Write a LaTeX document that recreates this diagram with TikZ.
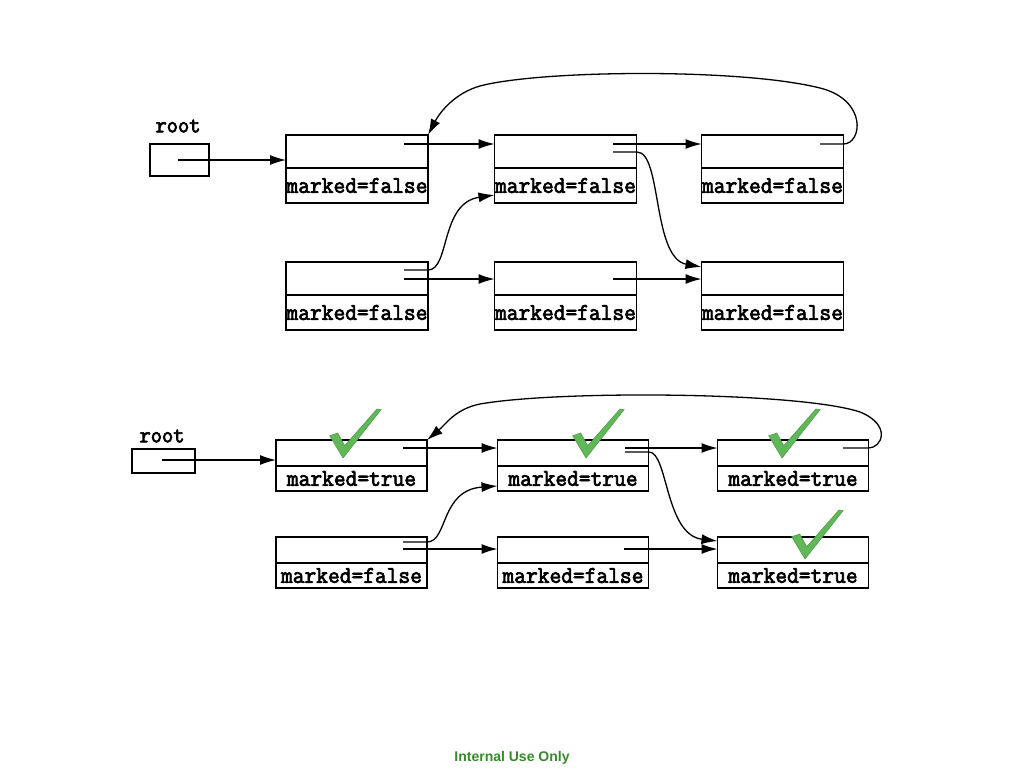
\documentclass[tikz,border=0pt]{standalone}
\usepackage{fontspec}
\newfontfamily\footfont{Liberation Sans}
\newfontfamily\cellfont{Latin Modern Mono}[FakeBold=3, FakeStretch=0.95]
\usetikzlibrary{arrows.meta}
\definecolor{checkgreen}{RGB}{96,184,88}
\definecolor{footgreen}{RGB}{52,140,40}

\begin{document}
\begin{tikzpicture}[x=1pt, y=-1pt,
  cell/.style={draw, line width=1.3pt, inner sep=0pt, outer sep=0pt},
  ptr/.style={line width=1.3pt, -{Latex[length=16pt,width=10pt]}},
  lbl/.style={font=\fontsize{24}{24}\selectfont\cellfont}]
  \useasboundingbox (0,0) rectangle (1024,768);

  % Upper list, nothing marked
  \node[cell, minimum width=59pt, minimum height=32pt] (r1) at (179.5,160) {};
  \node[lbl, font=\fontsize{23}{23}\selectfont\cellfont] (r1l) at (178,126) {root};
  \foreach \n/\x/\y in {a1/357/135, a2/565.5/135, a3/772.5/135, b1/357/262, b2/565.5/262, b3/772.5/262} {
    \node[cell, minimum width=142pt, minimum height=33pt, anchor=north] (\n t) at (\x,\y) {};
    \node[cell, lbl, minimum width=142pt, minimum height=35pt, anchor=north] (\n m) at (\x,\y+33) {marked=false};
  }
  \coordinate (r1p) at (178,160);
  \coordinate (a1p) at (404,144);
  \coordinate (a2p) at (613,144);
  \coordinate (a2q) at (613,152);
  \coordinate (a3p) at (820,144);
  \coordinate (b1p) at (404,270);
  \coordinate (b1q) at (404,279);
  \coordinate (b2p) at (613,279);

  \draw[ptr] (r1p) -- (r1p -| a1t.west);
  \draw[ptr] (a1p) -- (a1p -| a2t.west);
  \draw[ptr] (a2p) -- (a2p -| a3t.west);
  \draw[ptr] (a2q) -- (637,152) .. controls (662,152) and (652,258) .. ([yshift=-5pt]b3t.north west);
  \draw[ptr] (a3p) -- (a3p -| a3t.east) .. controls (862,144) and (868,100) .. (820,88)
    .. controls (740,68) and (540,70) .. (480,86) .. controls (455,93) and (440,112) .. (a1t.north east);
  \draw[ptr] (b1p) -- (428,270) .. controls (450,270) and (440,203) .. ([yshift=8pt]a2m.south west);
  \draw[ptr] (b1q) -- (b1q -| b2t.west);
  \draw[ptr] (b2p) -- (b2p -| b3t.west);

  % Lower list, after marking
  \node[cell, minimum width=63pt, minimum height=24pt] (r2) at (163.5,461) {};
  \node[lbl, font=\fontsize{23}{23}\selectfont\cellfont] (r2l) at (162,436) {root};
  \foreach \n/\x/\y/\v in {c1/351.5/440/true, c2/573/440/true, c3/793/440/true, d1/351.5/537/false, d2/573/537/false, d3/793/537/true} {
    \node[cell, minimum width=151pt, minimum height=26pt, anchor=north] (\n t) at (\x,\y) {};
    \node[cell, lbl, minimum width=151pt, minimum height=25pt, anchor=north] (\n m) at (\x,\y+26) {marked=\v};
  }
  \coordinate (r2p) at (162,460);
  \coordinate (c1p) at (403,448);
  \coordinate (c2p) at (625,448);
  \coordinate (c2q) at (625,452);
  \coordinate (c3p) at (843,448);
  \coordinate (d1p) at (403,542);
  \coordinate (d1q) at (403,549);
  \coordinate (d2p) at (624,549);

  \draw[ptr] (r2p) -- (r2p -| c1t.west);
  \draw[ptr] (c1p) -- (c1p -| c2t.west);
  \draw[ptr] (c2p) -- (c2p -| c3t.west);
  \draw[ptr] (c2q) -- (649,452) .. controls (668,452) and (665,535) .. ([yshift=-4pt]d3t.north west);
  \draw[ptr] (c3p) -- (c3p -| c3t.east) .. controls (882,448) and (892,425) .. (860,412)
    .. controls (800,392) and (560,390) .. (480,404) .. controls (455,409) and (445,425) .. (c1t.north east);
  \draw[ptr] (d1p) -- (427,542) .. controls (448,542) and (440,490) .. ([yshift=5pt]c2m.south west);
  \draw[ptr] (d1q) -- (d1q -| d2t.west);
  \draw[ptr] (d2p) -- (d2p -| d3t.west);

  % Check marks
  \foreach \cx/\cy in {343/458, 586/458, 782/458, 805/559}
    \filldraw[checkgreen, draw=checkgreen!85!black, line width=0.6pt, shift={(\cx,\cy)}]
      (0,0) -- (-13.3,-22.3) -- (-5.3,-25) -- (1.7,-12.3) -- (34,-49) -- (38,-48.3) -- cycle;

  % Footer
  \node[font=\footfont\bfseries\fontsize{14}{14}\selectfont, text=footgreen] (foot) at (512,758) {Internal Use Only};
\end{tikzpicture}
\end{document}
